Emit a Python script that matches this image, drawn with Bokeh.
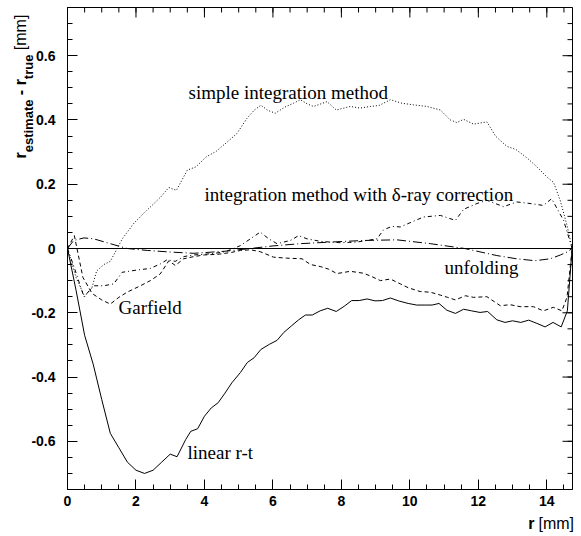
import numpy as np
from bokeh.plotting import figure
from bokeh.models import Label, LinearAxis, FixedTicker, Span, Range1d, ColumnDataSource
from bokeh.core.properties import value
from bokeh.embed import file_html
from bokeh.resources import INLINE

# ---------------- data ----------------
lin_x = [0, 0.25, 0.5, 0.75, 1.0, 1.25, 1.5, 1.75, 2.0, 2.25, 2.5, 2.75, 3.0, 3.2,
         3.45, 3.6, 3.8, 4.0, 4.2, 4.4, 4.6, 4.8, 5.05, 5.25, 5.45, 5.65, 5.9, 6.12,
         6.32, 6.55, 6.75, 6.95, 7.15, 7.38, 7.6, 7.85, 8.08, 8.3, 8.52, 8.75, 8.98,
         9.2, 9.43, 9.67, 9.95, 10.2, 10.45, 10.65, 10.85, 11.08, 11.33, 11.57, 11.8,
         12.05, 12.27, 12.54, 12.78, 13.0, 13.24, 13.47, 13.71, 13.95, 14.18, 14.42,
         14.6, 14.74]
lin_y = [0, -0.13, -0.27, -0.36, -0.47, -0.575, -0.62, -0.665, -0.69, -0.70, -0.69,
         -0.665, -0.64, -0.648, -0.595, -0.569, -0.561, -0.522, -0.496, -0.48, -0.45,
         -0.418, -0.386, -0.355, -0.34, -0.314, -0.298, -0.286, -0.261, -0.24, -0.222,
         -0.207, -0.207, -0.194, -0.186, -0.196, -0.18, -0.162, -0.162, -0.157, -0.163,
         -0.162, -0.154, -0.163, -0.171, -0.176, -0.176, -0.176, -0.171, -0.192, -0.202,
         -0.189, -0.194, -0.199, -0.196, -0.222, -0.23, -0.225, -0.23, -0.223, -0.233,
         -0.244, -0.23, -0.244, -0.194, 0]

simple_x = [0, 0.25, 0.5, 0.72, 0.85, 1.06, 1.25, 1.45, 1.6, 1.95, 2.33, 2.72, 2.96,
            3.18, 3.5, 3.75, 4.05, 4.35, 4.65, 4.95, 5.24, 5.45, 5.65, 5.85, 6.07, 6.35,
            6.6, 6.8, 7.0, 7.19, 7.58, 7.85, 8.26, 8.55, 8.84, 9.1, 9.43, 9.77, 10.11,
            10.5, 10.89, 11.18, 11.37, 11.57, 11.86, 12.25, 12.5, 12.83, 13.1, 13.42,
            13.71, 14.0, 14.2, 14.39, 14.59, 14.74]
simple_y = [0, -0.09, -0.15, -0.12, -0.07, -0.05, -0.04, 0.0, 0.03, 0.08, 0.12, 0.16,
            0.19, 0.181, 0.244, 0.254, 0.285, 0.303, 0.33, 0.358, 0.405, 0.43, 0.446,
            0.43, 0.421, 0.44, 0.452, 0.463, 0.45, 0.442, 0.457, 0.431, 0.442, 0.437,
            0.442, 0.445, 0.463, 0.452, 0.447, 0.442, 0.431, 0.40, 0.392, 0.402, 0.387,
            0.394, 0.35, 0.318, 0.308, 0.282, 0.254, 0.223, 0.205, 0.15, 0.072, 0]

delta_x = [0, 0.2, 0.48, 0.77, 1.06, 1.35, 1.6, 2.03, 2.42, 2.71, 2.91, 3.15, 3.4, 3.7,
           4.0, 4.3, 4.6, 4.85, 5.05, 5.34, 5.63, 5.88, 6.12, 6.51, 6.75, 7.0, 7.4,
           7.97, 8.45, 8.75, 9.04, 9.23, 9.48, 9.72, 10.11, 10.4, 10.89, 11.33, 11.57,
           11.96, 12.25, 12.74, 13.12, 13.51, 13.9, 14.14, 14.49, 14.74]
delta_y = [0, -0.06, -0.15, -0.116, -0.116, -0.11, -0.074, -0.067, -0.062, -0.048,
           -0.035, -0.04, -0.025, -0.02, -0.018, -0.015, -0.01, 0.0, 0.009, 0.03, 0.051,
           0.03, 0.015, 0.025, 0.04, 0.03, 0.022, 0.018, 0.02, 0.025, 0.03, 0.058, 0.069,
           0.067, 0.085, 0.098, 0.103, 0.0875, 0.122, 0.14, 0.15, 0.13, 0.145, 0.14,
           0.134, 0.155, 0.0875, 0]

garf_x = [0, 0.2, 0.45, 0.72, 1.0, 1.25, 1.5, 1.74, 2.13, 2.42, 2.71, 2.96, 3.15, 3.39,
          3.7, 4.0, 4.4, 4.8, 5.05, 5.35, 5.63, 6.02, 6.4, 6.85, 7.1, 7.38, 7.62, 7.87,
          8.26, 8.65, 8.9, 9.14, 9.43, 9.72, 9.95, 10.3, 10.6, 10.89, 11.1, 11.33, 11.62,
          11.86, 12.25, 12.64, 12.93, 13.22, 13.61, 13.9, 14.19, 14.44, 14.59, 14.74]
garf_y = [0, 0.04, -0.09, -0.14, -0.16, -0.173, -0.152, -0.136, -0.116, -0.1, -0.079,
          -0.038, -0.053, -0.032, -0.025, -0.02, -0.018, -0.012, -0.006, -0.004, -0.01,
          -0.027, -0.03, -0.032, -0.05, -0.056, -0.064, -0.078, -0.071, -0.077, -0.088,
          -0.1, -0.095, -0.11, -0.122, -0.134, -0.136, -0.145, -0.152, -0.16, -0.147,
          -0.152, -0.15, -0.178, -0.175, -0.181, -0.181, -0.194, -0.183, -0.194, -0.152, 0]

unf_x = [0, 0.18, 0.48, 0.77, 1.25, 1.74, 2.33, 3.0, 3.69, 4.66, 5.34, 6.0, 6.8, 7.68,
         8.65, 9.62, 10.6, 11.6, 12.54, 13.12, 13.65, 14.1, 14.4, 14.59, 14.74]
unf_y = [0, 0.025, 0.033, 0.03, 0.015, 0.0, -0.006, -0.011, -0.015, -0.008, 0.0, 0.008,
         0.015, 0.02, 0.025, 0.027, 0.015, 0.0, -0.022, -0.032, -0.038, -0.032, -0.02,
         -0.011, 0]

x_ticks = [0, 2, 4, 6, 8, 10, 12, 14]
x_tick_labels = ["0", "2", "4", "6", "8", "10", "12", "14"]
y_ticks = [-0.6, -0.4, -0.2, 0, 0.2, 0.4, 0.6]
y_tick_labels = ["-0.6", "-0.4", "-0.2", "0", "0.2", "0.4", "0.6"]

# ---------------- layout ----------------
W, H = 581, 536
L, R, T, B = 67, 9, 7, 47
X0, X1 = 0.0, 14.75
Y0, Y1 = -0.75, 0.75
FW, FH = W - L - R, H - T - B


def dx(px):
    return X0 + (px - L) / FW * (X1 - X0)


def dy(py):
    return Y1 - (py - T) / FH * (Y1 - Y0)


p = figure(width=W, height=H, x_range=Range1d(X0, X1), y_range=Range1d(Y0, Y1),
           output_backend="svg", toolbar_location=None,
           min_border_left=L, min_border_right=R, min_border_top=T, min_border_bottom=B,
           x_axis_location=None, y_axis_location=None)
p.xgrid.visible = False
p.ygrid.visible = False
p.outline_line_color = "black"
p.outline_line_width = 1
p.background_fill_color = "white"
p.border_fill_color = "white"

x_minor = [float(v) for v in np.arange(0, 14.76, 0.5)]
y_minor = [float(v) for v in np.round(np.arange(-0.75, 0.751, 0.05), 3)]
MAJ, MIN = 10, 5


def style(ax):
    ax.axis_line_color = "black"
    ax.axis_line_width = 1
    ax.major_tick_in = MAJ
    ax.major_tick_out = 0
    ax.minor_tick_in = MIN
    ax.minor_tick_out = 0
    ax.major_tick_line_color = "black"
    ax.minor_tick_line_color = "black"
    ax.major_label_text_font = "Liberation Sans"
    ax.major_label_text_font_style = "bold"
    ax.major_label_text_color = "black"
    ax.major_label_text_font_size = "14px"


xax = LinearAxis(ticker=FixedTicker(ticks=x_ticks, minor_ticks=x_minor))
xax.major_label_overrides = {t: s for t, s in zip(x_ticks, x_tick_labels)}
style(xax)
xax.major_label_standoff = 6
p.add_layout(xax, "below")

yax = LinearAxis(ticker=FixedTicker(ticks=y_ticks, minor_ticks=y_minor))
yax.major_label_overrides = {t: s for t, s in zip(y_ticks, y_tick_labels)}
style(yax)
yax.major_label_standoff = 12
p.add_layout(yax, "left")

# mirrored ticks on the top and right edges of the frame
ux = (X1 - X0) / FW
uy = (Y1 - Y0) / FH
for ticks, ln in [(x_ticks, MAJ), (x_minor, MIN)]:
    p.segment(x0=ticks, x1=ticks, y0=[Y1] * len(ticks), y1=[Y1 - ln * uy] * len(ticks),
              line_color="black", line_width=1)
for ticks, ln in [(y_ticks, MAJ), (y_minor, MIN)]:
    p.segment(x0=[X1] * len(ticks), x1=[X1 - ln * ux] * len(ticks), y0=ticks, y1=ticks,
              line_color="black", line_width=1)

p.add_layout(Span(location=0, dimension="width", line_color="black", line_width=1))

p.line(lin_x, lin_y, line_color="black", line_width=1)
p.line(simple_x, simple_y, line_color="black", line_width=1, line_dash="1 2")
p.line(delta_x, delta_y, line_color="black", line_width=1, line_dash="4 3 1 3")
p.line(garf_x, garf_y, line_color="black", line_width=1, line_dash="4 3")
p.line(unf_x, unf_y, line_color="black", line_width=1, line_dash="9 3 1 3")

serif = "Liberation Serif"
for txt, px, py in [("simple integration method", 188, 91.5),
                    ("integration method with δ-ray correction", 204, 193.5),
                    ("Garfield", 118, 306.5),
                    ("linear r-t", 187, 451.5),
                    ("unfolding", 444, 266.5)]:
    p.add_layout(Label(x=dx(px), y=dy(py), text=txt, text_font=serif,
                       text_font_size="19px", text_color="black",
                       text_align="left", text_baseline="middle"))

# ---- axis titles (text glyphs drawn above the frame clip) ----
sans = "Liberation Sans"
pieces = [("r", 16, "bold", 20, 0.389, 0),
          ("estimate", 13, "bold", 28, 4.057, 0),
          ("- r", 16, "bold", 20, 1.0, 4.4),
          ("true", 13, "bold", 28, 1.889, 0),
          ("[mm]", 16, "normal", 20, 2.61, 4.4)]
tx, ty, tt, ts, tst = [], [], [], [], []
ypos = 158.0
for txt, fs, st, cx, em, gap in pieces:
    ypos -= gap
    tx.append(dx(cx))
    ty.append(dy(ypos))
    tt.append(txt)
    ts.append(f"{fs}px")
    tst.append(st)
    ypos -= em * fs
src_y = ColumnDataSource(dict(x=tx, y=ty, text=tt, size=ts, style=tst))
p.text(x="x", y="y", text="text", source=src_y, text_font=value(sans),
       text_font_size="size", text_font_style="style", text_color="black",
       angle=np.pi / 2, text_align="left", text_baseline="middle", level="overlay")

src_x = ColumnDataSource(dict(x=[dx(534), dx(538)], y=[dy(523), dy(523)],
                              text=["r", "[mm]"], style=["bold", "normal"],
                              align=["right", "left"]))
p.text(x="x", y="y", text="text", source=src_x, text_font=value(sans),
       text_font_size="16px", text_font_style="style", text_color="black",
       text_align="align", text_baseline="middle", level="overlay")

open("out.html", "w").write(file_html(p, INLINE))
